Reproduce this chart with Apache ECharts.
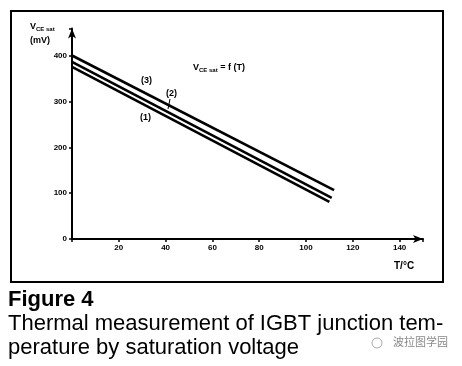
<!DOCTYPE html>
<html><head><meta charset="utf-8">
<script src="https://cdn.jsdelivr.net/npm/echarts@6/dist/echarts.min.js"></script>
<style>html,body{margin:0;padding:0;background:#fff}#c{width:462px;height:366px}</style>
</head><body><div id="c"></div>
<script>
var xTicks = [20, 40, 60, 80, 100, 120, 140];
var yTicks = [0, 100, 200, 300, 400];
var line1T = [0, 110];
var line1V = [376, 81];
var line2T = [0, 111];
var line2V = [387, 90];
var line3T = [0, 112];
var line3V = [401, 107];
var seriesNames = ['(1)', '(2)', '(3)'];

function pairs(t, v) { return t.map(function (x, i) { return [x, v[i]]; }); }

var chart = echarts.init(document.getElementById('c'), null, {renderer: 'canvas'});
var F = 'Liberation Sans, Arial, sans-serif';
var lineSeries = [[line1T, line1V], [line2T, line2V], [line3T, line3V]].map(function (d, i) {
  return {
    name: seriesNames[i], type: 'line', data: pairs(d[0], d[1]), showSymbol: false,
    lineStyle: {color: '#000', width: 2.6}, animation: false, silent: true
  };
});
chart.setOption({
  animation: false,
  grid: {left: 72, top: 28.5, right: 39, bottom: 127},
  xAxis: {
    type: 'value', min: 0, max: 150, interval: 20,
    axisLine: {lineStyle: {color: '#000', width: 2}, symbol: ['none', 'arrow'], symbolSize: [6, 10]},
    axisTick: {show: true, length: 3, inside: false, lineStyle: {color: '#000', width: 1.5}},
    splitLine: {show: false},
    axisLabel: {color: '#000', fontFamily: F, fontWeight: 'bold', fontSize: 8, margin: 5,
      formatter: function (v) { return xTicks.indexOf(v) >= 0 ? String(v) : ''; }}
  },
  yAxis: {
    type: 'value', min: 0, max: 460, interval: 100,
    axisLine: {show: true, lineStyle: {color: '#000', width: 2}, symbol: ['none', 'arrow'], symbolSize: [6, 10]},
    axisTick: {show: true, length: 3, lineStyle: {color: '#000', width: 1.5}},
    splitLine: {show: false},
    axisLabel: {color: '#000', fontFamily: F, fontWeight: 'bold', fontSize: 8, margin: 5,
      formatter: function (v) { return yTicks.indexOf(v) >= 0 ? String(v) : ''; }}
  },
  series: lineSeries,
  graphic: [
    {type: 'rect', shape: {x: 11, y: 11, width: 432, height: 271}, style: {fill: 'none', stroke: '#000', lineWidth: 2}, silent: true},
    {type: 'text', left: 30, top: 22, style: {text: '{v|V}{s|CE sat}\n{v|(mV)}', rich: {
      v: {fontFamily: F, fontSize: 9, fontWeight: 'bold', fill: '#000', lineHeight: 14},
      s: {fontFamily: F, fontSize: 6, fontWeight: 'bold', fill: '#000', padding: [5, 0, 0, 0]}}}},
    {type: 'text', left: 193, top: 63, style: {text: '{v|V}{s|CE sat}{v| = f (T)}', rich: {
      v: {fontFamily: F, fontSize: 9, fontWeight: 'bold', fill: '#000'},
      s: {fontFamily: F, fontSize: 6, fontWeight: 'bold', fill: '#000', padding: [5, 0, 0, 0]}}}},
    {type: 'text', left: 141, top: 76, style: {text: '(3)', font: 'bold 9px ' + F, fill: '#000'}},
    {type: 'text', left: 166, top: 89, style: {text: '(2)', font: 'bold 9px ' + F, fill: '#000'}},
    {type: 'line', shape: {x1: 170, y1: 99, x2: 168, y2: 109}, style: {stroke: '#000', lineWidth: 1}},
    {type: 'text', left: 140, top: 113, style: {text: '(1)', font: 'bold 9px ' + F, fill: '#000'}},
    {type: 'text', left: 394, top: 261, style: {text: 'T/\u00B0C', font: 'bold 10px ' + F, fill: '#000'}},
    {type: 'text', left: 8, top: 289, style: {text: 'Figure 4', font: 'bold 22px ' + F, fill: '#000'}},
    {type: 'text', left: 8, top: 313, style: {text: 'Thermal measurement of IGBT junction tem-', font: '22px ' + F, fill: '#000'}},
    {type: 'text', left: 8, top: 337, style: {text: 'perature by saturation voltage', font: '22px ' + F, fill: '#000'}},
    {type: 'circle', shape: {cx: 377, cy: 343, r: 5}, style: {fill: 'none', stroke: '#aaa', lineWidth: 1}},
    {type: 'text', left: 393, top: 336, style: {text: '波拉图学园', font: '11px Noto Sans CJK SC', fill: '#888'}}
  ]
});
</script></body></html>
